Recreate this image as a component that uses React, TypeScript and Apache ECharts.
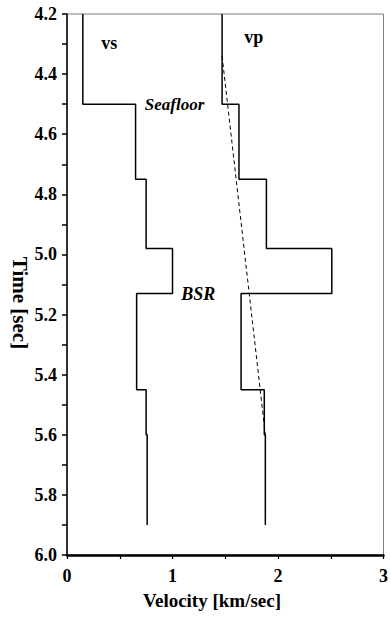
import React, { useEffect, useRef } from "react";
import * as echarts from "echarts";

// Layer boundaries (two-way travel time, sec)
const layerTops = [4.2, 4.5, 4.75, 4.98, 5.13, 5.45, 5.6];
const layerBottoms = [4.5, 4.75, 4.98, 5.13, 5.45, 5.6, 5.9];
// Interval velocities (km/sec)
const vsValues = [0.15, 0.65, 0.75, 1.0, 0.66, 0.75, 0.76];
const vpValues = [1.47, 1.63, 1.89, 2.51, 1.65, 1.87, 1.88];
// Reference trend (dashed)
const trendPoints: [number, number][] = [
  [1.47, 4.34],
  [1.88, 5.6],
];
const xTicks = ["0", "1", "2", "3"];

const annotations = [
  { text: "vs", x: 0.4, y: 4.295, italic: false, size: 18 },
  { text: "vp", x: 1.77, y: 4.275, italic: false, size: 18 },
  { text: "Seafloor", x: 1.02, y: 4.5, italic: true, size: 17 },
  { text: "BSR", x: 1.245, y: 5.13, italic: true, size: 18 },
];

function stepPoints(vals: number[]): [number, number][] {
  const pts: [number, number][] = [];
  vals.forEach((v, i) => {
    pts.push([v, layerTops[i]]);
    pts.push([v, layerBottoms[i]]);
  });
  return pts;
}

const FONT = "'Liberation Serif', 'Times New Roman', Times, serif";

export default function App() {
  const ref = useRef<HTMLDivElement>(null);
  useEffect(() => {
    if (!ref.current) return;
    const chart = echarts.init(ref.current, null, { renderer: "svg" });
    chart.setOption({
      animation: false,
      backgroundColor: "#fff",
      textStyle: { fontFamily: FONT },
      grid: {
        left: 67,
        right: 2,
        top: 14,
        bottom: 64,
        show: true,
        borderColor: "#808080",
        borderWidth: 1,
      },
      xAxis: {
        type: "value",
        min: 0,
        max: 3,
        interval: 1,
        axisLine: { show: true, lineStyle: { color: "#000", width: 2.5 } },
        axisTick: { show: true, inside: false, length: 4, lineStyle: { color: "#000", width: 1.2 } },
        minorTick: { show: true, splitNumber: 2, length: 4, lineStyle: { color: "#000", width: 1.2 } },
        splitLine: { show: false },
        axisLabel: {
          margin: 12,
          color: "#000",
          fontFamily: FONT,
          fontWeight: "bold",
          fontSize: 18,
          formatter: (v: number) => xTicks[Math.round(v)] ?? String(v),
        },
      },
      yAxis: {
        type: "value",
        min: 4.2,
        max: 6.0,
        interval: 0.2,
        inverse: true,
        axisLine: { show: true, onZero: false, lineStyle: { color: "#000", width: 1.5 } },
        axisTick: { show: true, inside: false, length: 5, lineStyle: { color: "#000", width: 1.5 } },
        minorTick: { show: true, splitNumber: 2, length: 5, lineStyle: { color: "#000", width: 1.5 } },
        splitLine: { show: false },
        axisLabel: {
          margin: 10,
          color: "#000",
          fontFamily: FONT,
          fontWeight: "bold",
          fontSize: 18,
          formatter: (v: number) => v.toFixed(1),
        },
      },
      series: [
        {
          type: "line",
          data: stepPoints(vsValues),
          showSymbol: false,
          lineStyle: { color: "#000", width: 1.5 },
          z: 3,
        },
        {
          type: "line",
          data: stepPoints(vpValues),
          showSymbol: false,
          lineStyle: { color: "#000", width: 1.5 },
          z: 3,
        },
        {
          type: "line",
          data: trendPoints,
          showSymbol: false,
          lineStyle: { color: "#000", width: 1, type: [4, 3] },
          z: 2,
        },
      ],
      graphic: [
        {
          type: "text",
          x: 212,
          y: 600,
          style: {
            text: "Velocity [km/sec]",
            fill: "#000",
            font: `bold 19px ${FONT}`,
            textAlign: "center",
            textVerticalAlign: "middle",
          },
        },
        {
          type: "text",
          x: 20,
          y: 303,
          rotation: -Math.PI / 2,
          style: {
            text: "Time [sec]",
            fill: "#000",
            font: `bold 21px ${FONT}`,
            textAlign: "center",
            textVerticalAlign: "middle",
          },
        },
      ],
    });
    // Annotation texts placed through the chart's own scales
    const annGraphics = annotations.map((a) => {
      const [px, py] = chart.convertToPixel({ gridIndex: 0 }, [a.x, a.y]) as number[];
      return {
        type: "text",
        x: px,
        y: py,
        z: 10,
        style: {
          text: a.text,
          fill: "#000",
          font: `${a.italic ? "italic " : ""}bold ${a.size}px ${FONT}`,
          textAlign: "center",
          textVerticalAlign: "middle",
        },
      };
    });
    chart.setOption({
      graphic: [
        {
          type: "text",
          x: 212,
          y: 600,
          style: {
            text: "Velocity [km/sec]",
            fill: "#000",
            font: `bold 19px ${FONT}`,
            textAlign: "center",
            textVerticalAlign: "middle",
          },
        },
        {
          type: "text",
          x: 20,
          y: 303,
          rotation: -Math.PI / 2,
          style: {
            text: "Time [sec]",
            fill: "#000",
            font: `bold 21px ${FONT}`,
            textAlign: "center",
            textVerticalAlign: "middle",
          },
        },
        ...annGraphics,
      ],
    });
    return () => chart.dispose();
  }, []);
  return (
    <div
      ref={ref}
      style={{ position: "fixed", left: 0, top: 0, width: 391, height: 619 }}
    />
  );
}
